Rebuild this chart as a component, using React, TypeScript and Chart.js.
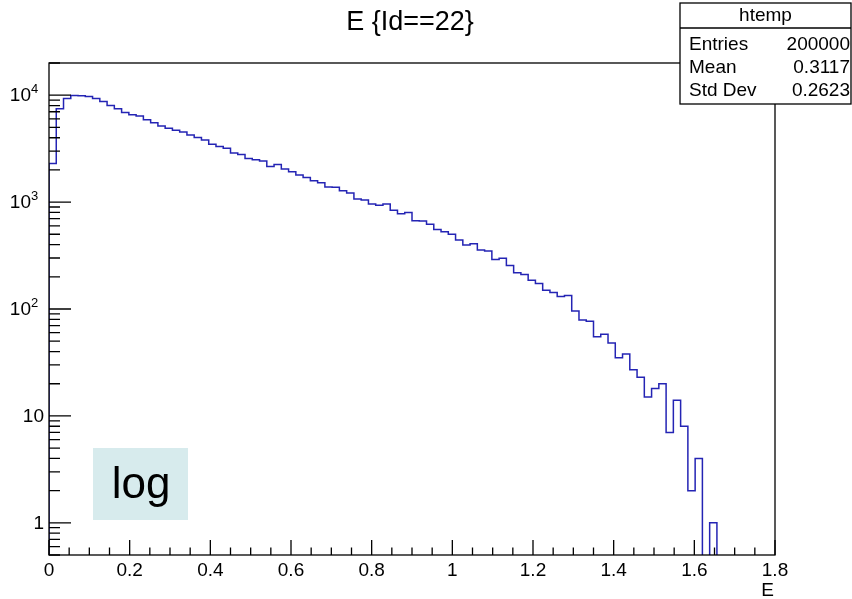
import React, { useEffect, useRef } from "react";
import { Chart, registerables } from "chart.js";

Chart.register(...registerables);

// ---- data ----
const xMin = 0;
const xMax = 1.8;
const binCount = 100;
const binCounts = [
  2300, 7460, 9310, 9940, 9900, 9730, 9310, 8740, 8020, 7460,
  6900, 6560, 6380, 5895, 5520, 5150, 4900, 4700, 4530, 4245,
  4010, 3815, 3477, 3305, 3193, 2886, 2785, 2555, 2485, 2417,
  2153, 2248, 2036, 1922, 1791, 1702, 1585, 1518, 1384, 1380,
  1279, 1218, 1071, 1048, 962, 934, 960, 839, 777, 799,
  668, 665, 622, 555, 528, 499, 441, 396, 408, 356,
  349, 290, 298, 255, 218, 210, 186, 173, 150, 143,
  131, 134, 96, 79, 77, 55, 58, 48, 35, 38,
  27, 23, 15, 18, 20, 7, 14, 8, 2, 4,
  0, 1, 0, 0, 0, 0, 0, 0, 0, 0,
];
const xTickValues = [0, 0.2, 0.4, 0.6, 0.8, 1, 1.2, 1.4, 1.6, 1.8];
const xTickLabels = ["0", "0.2", "0.4", "0.6", "0.8", "1", "1.2", "1.4", "1.6", "1.8"];
const xMinorStep = 0.05;
const yTickValues = [1, 10, 100, 1000, 10000];
const yTickLabels = ["1", "10", "10^2", "10^3", "10^4"];
const yMin = 0.5;
const yMax = 20000;
const titleText = "E {Id==22}";
const xAxisTitle = "E";
const histName = "htemp";
const statsLabels = ["Entries", "Mean", "Std Dev"];
const statsValues = ["200000", "0.3117", "0.2623"];
const noteText = "log";

const FONT = '"Liberation Sans", Arial, Helvetica, sans-serif';

const decorPlugin = {
  id: "rootDecor",
  afterDraw(chart: any) {
    const ctx = chart.ctx as CanvasRenderingContext2D;
    const a = chart.chartArea;
    const xs = chart.scales.x;
    const ys = chart.scales.y;
    ctx.save();
    ctx.strokeStyle = "#000";
    ctx.fillStyle = "#000";
    ctx.lineWidth = 1.3;

    // frame
    ctx.strokeRect(a.left, a.top, a.right - a.left, a.bottom - a.top);

    // x ticks
    const xMajorLen = 15;
    const xMinorLen = 7.5;
    ctx.beginPath();
    const nMinor = Math.round((xMax - xMin) / xMinorStep);
    for (let i = 0; i <= nMinor; i++) {
      const v = xMin + i * xMinorStep;
      const px = xs.getPixelForValue(v);
      const isMajor = xTickValues.some((t) => Math.abs(t - v) < 1e-9);
      ctx.moveTo(px, a.bottom);
      ctx.lineTo(px, a.bottom - (isMajor ? xMajorLen : xMinorLen));
    }
    // y ticks
    const yMajorLen = 22;
    const yMinorLen = 11;
    const eLo = Math.floor(Math.log10(yMin));
    const eHi = Math.ceil(Math.log10(yMax));
    for (let e = eLo; e <= eHi; e++) {
      for (let m = 1; m <= 9; m++) {
        const v = m * Math.pow(10, e);
        if (v < yMin * 0.999 || v > yMax * 1.001) continue;
        const py = ys.getPixelForValue(v);
        ctx.moveTo(a.left, py);
        ctx.lineTo(a.left + (m === 1 ? yMajorLen : yMinorLen), py);
      }
    }
    ctx.stroke();

    // x labels
    ctx.font = `19px ${FONT}`;
    ctx.textAlign = "center";
    ctx.textBaseline = "middle";
    xTickValues.forEach((v, i) => {
      ctx.fillText(xTickLabels[i], xs.getPixelForValue(v), a.bottom + 16);
    });
    // x axis title
    ctx.textAlign = "right";
    ctx.fillText(xAxisTitle, a.right - 1, a.bottom + 36);

    // y labels
    yTickValues.forEach((v, i) => {
      const py = ys.getPixelForValue(v);
      const lab = yTickLabels[i];
      if (lab.includes("^")) {
        const [base, exp] = lab.split("^");
        ctx.font = `19px ${FONT}`;
        ctx.textAlign = "right";
        ctx.fillText(base, a.left - 18, py + 1);
        ctx.font = `13px ${FONT}`;
        ctx.textAlign = "left";
        ctx.fillText(exp, a.left - 18, py - 6);
      } else {
        ctx.font = `19px ${FONT}`;
        ctx.textAlign = "right";
        ctx.fillText(lab, a.left - 5, py + 1);
      }
    });

    // title
    ctx.font = `27px ${FONT}`;
    ctx.textAlign = "center";
    ctx.fillText(titleText, 410, 23);

    // stats box
    const bx = 680, by = 3, bw = 171, bh = 101;
    ctx.fillStyle = "#fff";
    ctx.fillRect(bx, by, bw, bh);
    ctx.strokeStyle = "#000";
    ctx.lineWidth = 1.3;
    ctx.strokeRect(bx, by, bw, bh);
    ctx.beginPath();
    ctx.moveTo(bx, by + 25);
    ctx.lineTo(bx + bw, by + 25);
    ctx.stroke();
    ctx.fillStyle = "#000";
    ctx.font = `19px ${FONT}`;
    ctx.textAlign = "center";
    ctx.fillText(histName, bx + bw / 2, by + 13);
    statsLabels.forEach((l, i) => {
      const ty = by + 42 + i * 23;
      ctx.textAlign = "left";
      ctx.fillText(l, bx + 9, ty);
      ctx.textAlign = "right";
      ctx.fillText(statsValues[i], bx + bw - 1, ty);
    });

    // note box
    ctx.fillStyle = "#d7ebed";
    ctx.fillRect(93, 448, 95, 72);
    ctx.fillStyle = "#000";
    ctx.font = `44px ${FONT}`;
    ctx.textAlign = "center";
    ctx.fillText(noteText, 141, 486);

    ctx.restore();
  },
};

export default function App() {
  const canvasRef = useRef<HTMLCanvasElement | null>(null);

  useEffect(() => {
    const canvas = canvasRef.current;
    if (!canvas) return;
    const width = (xMax - xMin) / binCount;
    const floor = yMin / 1000;
    const pts: { x: number; y: number }[] = [{ x: xMin, y: floor }];
    binCounts.forEach((c, i) => {
      pts.push({ x: xMin + i * width, y: c > 0 ? c : floor });
    });
    pts.push({ x: xMax, y: binCounts[binCount - 1] > 0 ? binCounts[binCount - 1] : floor });

    const chart = new Chart(canvas, {
      type: "line",
      data: {
        datasets: [
          {
            data: pts,
            stepped: "before",
            borderColor: "#2424b4",
            borderWidth: 1.5,
            pointRadius: 0,
            fill: false,
            tension: 0,
          },
        ],
      },
      options: {
        responsive: false,
        animation: false,
        devicePixelRatio: 1,
        layout: { padding: { left: 49, right: 77, top: 63, bottom: 44 } },
        plugins: { legend: { display: false }, tooltip: { enabled: false } },
        scales: {
          x: { type: "linear", min: xMin, max: xMax, display: false },
          y: { type: "logarithmic", min: yMin, max: yMax, display: false },
        },
      },
      plugins: [decorPlugin],
    });
    return () => chart.destroy();
  }, []);

  return (
    <div style={{ position: "absolute", left: 0, top: 0, width: 852, height: 599, background: "#fff" }}>
      <canvas ref={canvasRef} width={852} height={599} />
    </div>
  );
}
